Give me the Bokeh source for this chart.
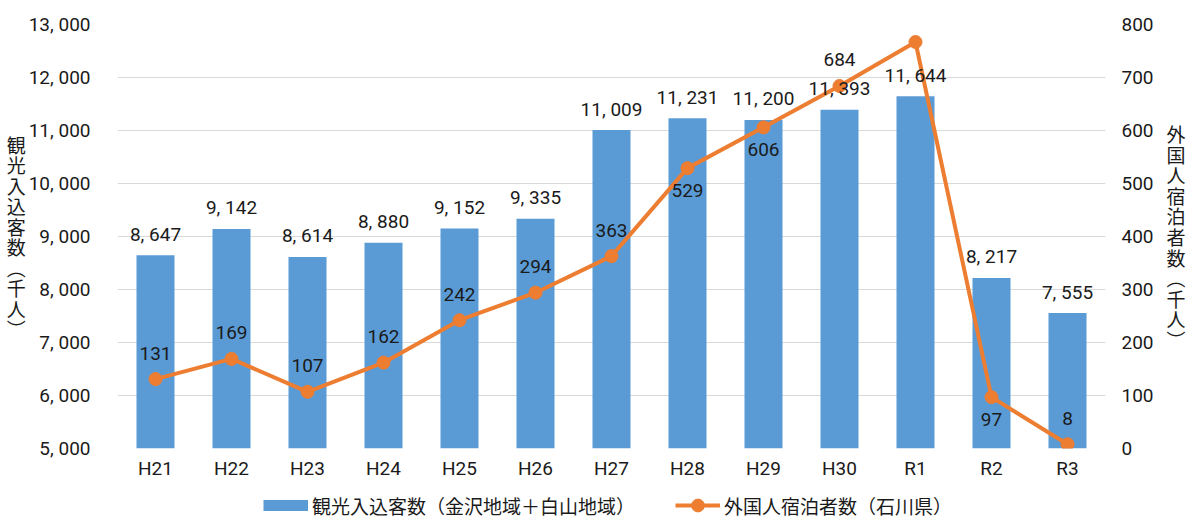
from bokeh.plotting import figure
from bokeh.layouts import column
from bokeh.models import (ColumnDataSource, FactorRange, Range1d, LinearAxis,
                          FixedTicker, Legend, LegendItem)
from bokeh.embed import file_html
from bokeh.resources import INLINE
from bokeh.core.properties import value

# ---------------- data ----------------
categories = ["H21", "H22", "H23", "H24", "H25", "H26", "H27",
              "H28", "H29", "H30", "R1", "R2", "R3"]
visitors = [8647, 9142, 8614, 8880, 9152, 9335, 11009,
            11231, 11200, 11393, 11644, 8217, 7555]
foreign_guests = [131, 169, 107, 162, 242, 294, 363,
                  529, 606, 684, 767, 97, 8]
left_ticks = [5000, 6000, 7000, 8000, 9000, 10000, 11000, 12000, 13000]
right_ticks = [0, 100, 200, 300, 400, 500, 600, 700, 800]
bar_name = "観光入込客数（金沢地域＋白山地域）"
line_name = "外国人宿泊者数（石川県）"
left_title = "観光入込客数（千人）"
right_title = "外国人宿泊者数（千人）"
line_label_side = ["above", "above", "above", "above", "above", "above", "above",
                   "below", "below", "above", "above", "below", "above"]

# ---------------- style ----------------
BAR = "#5B9BD5"
LINE = "#ED7D31"
GRID = "#D9D9D9"
TXT = "#1a1a1a"
NUM_FONT = "Roboto"
NUM_SIZE = "19px"
JP_FONT = "Noto Sans CJK JP"


def fmt(v):
    return f"{v:,}".replace(",", ", ")


def vertical(s):
    s = s.replace("（", "︵").replace("）", "︶")
    return "\n".join(s)


bar_src = ColumnDataSource(dict(x=categories, y=visitors,
                                label=[fmt(v) for v in visitors]))
line_src = ColumnDataSource(dict(
    x=categories, y=foreign_guests, label=[str(v) for v in foreign_guests],
    off=[-26 if s == "above" else 22 for s in line_label_side]))

p = figure(width=1188, height=482,
           x_range=FactorRange(*categories, range_padding=0),
           y_range=Range1d(5000, 13000),
           output_backend="svg", toolbar_location=None,
           min_border_left=117, min_border_right=83,
           min_border_top=24, min_border_bottom=34)
p.outline_line_color = None
p.background_fill_color = "white"
p.border_fill_color = "white"
p.extra_y_ranges = {"r": Range1d(0, 800)}

# grid
p.xgrid.grid_line_color = None
p.ygrid.grid_line_color = GRID
p.ygrid.grid_line_width = 1
p.ygrid.ticker = FixedTicker(ticks=left_ticks)

# bars
p.vbar(x="x", top="y", bottom=5000, width=0.5, source=bar_src,
       fill_color=BAR, line_color=None)

# line
p.line(x="x", y="y", source=line_src, y_range_name="r",
       line_color=LINE, line_width=4)
p.scatter(x="x", y="y", source=line_src, y_range_name="r",
          size=13, fill_color=LINE, line_color=LINE)

# labels
p.text(x="x", y="y", text="label", source=bar_src,
       text_align="center", text_baseline="middle", y_offset=-21,
       text_font=value(NUM_FONT), text_font_size=NUM_SIZE, text_color=TXT)
p.text(x="x", y="y", text="label", source=line_src, y_range_name="r",
       text_align="center", text_baseline="middle", y_offset="off",
       text_font=value(NUM_FONT), text_font_size=NUM_SIZE, text_color=TXT)


# axes
def style_axis(ax):
    ax.axis_line_color = None
    ax.major_tick_line_color = None
    ax.minor_tick_line_color = None
    ax.major_tick_in = 0
    ax.major_tick_out = 0
    ax.minor_tick_in = 0
    ax.minor_tick_out = 0
    ax.major_label_text_font = NUM_FONT
    ax.major_label_text_font_size = NUM_SIZE
    ax.major_label_text_color = TXT
    ax.axis_label_text_font = JP_FONT
    ax.axis_label_text_font_size = "19px"
    ax.axis_label_text_font_style = "normal"
    ax.axis_label_text_color = TXT


xa = p.xaxis[0]
style_axis(xa)
xa.major_label_standoff = 8

ya = p.yaxis[0]
style_axis(ya)
ya.ticker = FixedTicker(ticks=left_ticks)
ya.major_label_overrides = {t: fmt(t) for t in left_ticks}
ya.major_label_standoff = 27
ya.axis_label = vertical(left_title)
ya.axis_label_orientation = "horizontal"
ya.axis_label_text_line_height = 0.76
ya.axis_label_standoff = 0

ra = LinearAxis(y_range_name="r", ticker=FixedTicker(ticks=right_ticks))
style_axis(ra)
ra.major_label_overrides = {t: str(t) for t in right_ticks}
ra.major_label_standoff = 16
ra.axis_label = vertical(right_title)
ra.axis_label_orientation = "horizontal"
ra.axis_label_text_line_height = 0.76
ra.axis_label_standoff = 10
p.add_layout(ra, "right")

# ---------------- legend strip ----------------
lf = figure(width=1188, height=35, x_range=Range1d(0, 1188), y_range=Range1d(0, 35),
            output_backend="svg", toolbar_location=None,
            min_border_left=0, min_border_right=0, min_border_top=0, min_border_bottom=0)
lf.axis.visible = False
lf.grid.visible = False
lf.outline_line_color = None
lf.background_fill_color = "white"
lf.border_fill_color = "white"

# legend proxies placed outside the visible range (only their legend glyphs show)
proxy_bar = lf.line(x=[-20, -10], y=[-20, -20], line_color=BAR, line_width=11, line_cap="butt")
proxy_line = lf.line(x=[-20, -10], y=[-20, -20], line_color=LINE, line_width=4)
proxy_mark = lf.scatter(x=[-20], y=[-20], size=13, fill_color=LINE, line_color=LINE)

lg = Legend(items=[LegendItem(label=bar_name, renderers=[proxy_bar]),
                   LegendItem(label=line_name, renderers=[proxy_line, proxy_mark])],
            location=(146, -4), orientation="horizontal",
            glyph_width=45, glyph_height=32, label_height=32)
lg.border_line_color = None
lg.background_fill_alpha = 0
lg.padding = 0
lg.margin = 0
lg.spacing = 40
lg.label_text_font = JP_FONT
lg.label_text_font_size = "19px"
lg.label_text_color = TXT
lg.label_standoff = 4
lf.add_layout(lg, "center")

layout = column(p, lf, spacing=0)
open("out.html", "w").write(file_html(layout, INLINE))
